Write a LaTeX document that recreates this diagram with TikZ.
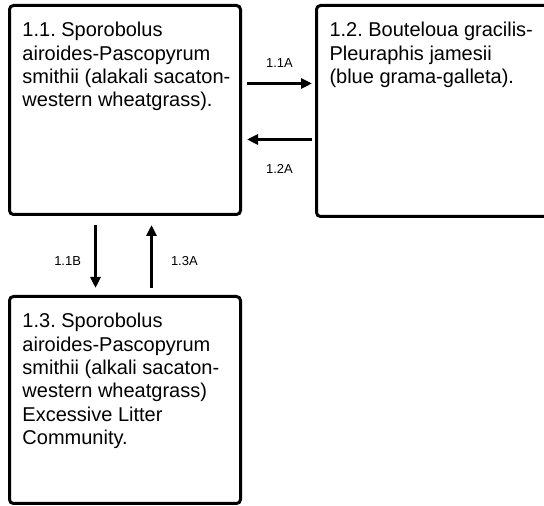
\documentclass[tikz,border=0pt]{standalone}
\usepackage{fontspec}
\setmainfont{Liberation Sans}
\usepackage{tikz}
\usetikzlibrary{calc}
\usetikzlibrary{arrows.meta}
\frenchspacing
\tikzstyle{statebox} = [draw=black, fill=white, line width=3pt,
rectangle, rounded corners=4pt, inner xsep=13pt, inner ysep=17pt,
anchor=north west, font=\fontsize{20}{23.3}\selectfont]
\tikzstyle{flow} = [line width=3pt, -{Triangle[length=11pt,width=10pt]}]
\tikzstyle{trlabel} = [font=\fontsize{13}{15}\selectfont, inner sep=0pt]

\begin{document}
\begin{tikzpicture}[x=1pt,y=1pt]
    \useasboundingbox (0,0) rectangle (544,506);
        \node [statebox] (s11) at (8,502) {%
            \begin{minipage}[t][175pt][t]{205pt}
                \raggedright
                1.1. Sporobolus\\
                airoides-Pascopyrum\\
                \mbox{smithii (alakali sacaton-}\\
                western wheatgrass).
            \end{minipage}
        };
        \node [statebox] (s12) at (315,502) {%
            \begin{minipage}[t][177pt][t]{214pt}
                \raggedright
                1.2. Bouteloua gracilis-\\
                Pleuraphis jamesii\\
                (blue grama-galleta).
            \end{minipage}
        };
        \node [statebox] (s13) at (8,211) {%
            \begin{minipage}[t][173pt][t]{205pt}
                \raggedright
                1.3. Sporobolus\\
                airoides-Pascopyrum\\
                \mbox{smithii (alkali sacaton-}\\
                western wheatgrass)\\
                Excessive Litter\\
                Community.
            \end{minipage}
        };
        % transitions
        \draw [flow] ($(s11.east)+(5,26.5)$) -- node[trlabel, above=14pt] (t11a) {1.1A}
            ($(s12.west |- s11.east)+(-3,26.5)$);
        \draw [flow] ($(s12.west |- s11.east)+(-3,-29.5)$) -- node[trlabel, below=23pt] (t12a) {1.2A}
            ($(s11.east)+(5,-29.5)$);
        \draw [flow] ($(s11.south)+(-29.5,-9)$) -- node[trlabel, left=13pt, yshift=-4.5pt] (t11b) {1.1B}
            ($(s13.north)+(-29.5,7)$);
        \draw [flow] ($(s13.north)+(26.5,7)$) -- node[trlabel, right=18pt, yshift=-4.5pt] (t13a) {1.3A}
            ($(s11.south)+(26.5,-9)$);
    \end{tikzpicture}
\end{document}
